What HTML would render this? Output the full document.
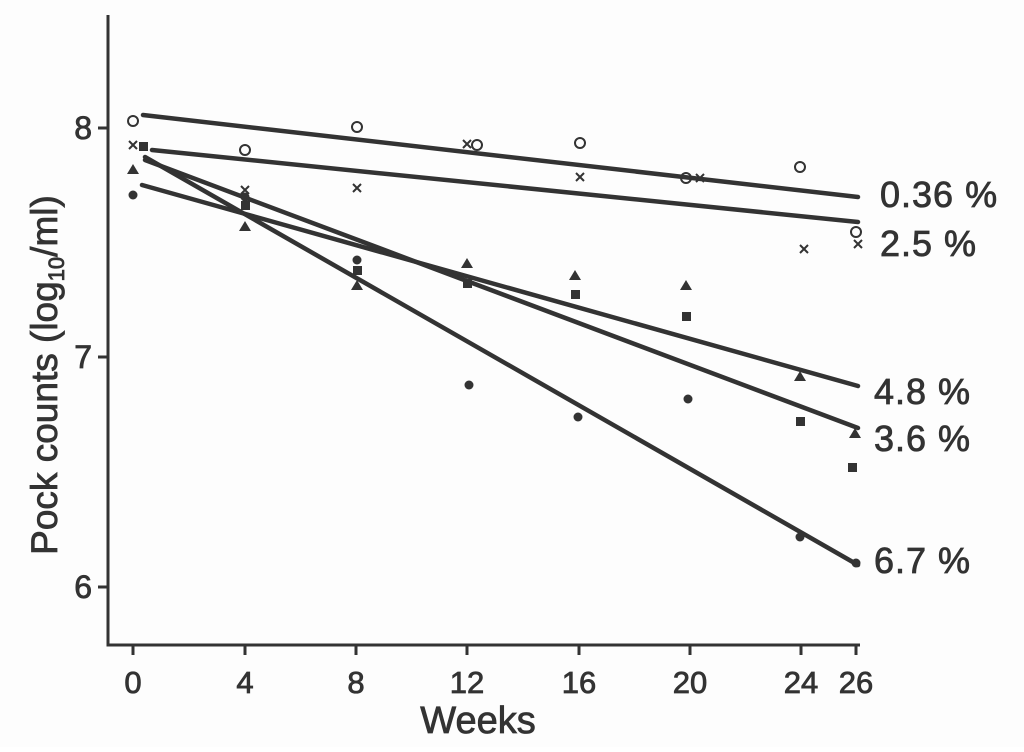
<!DOCTYPE html>
<html><head><style>body{margin:0;background:#fff}</style></head><body>
<svg width="1024" height="747" viewBox="0 0 1024 747" xmlns="http://www.w3.org/2000/svg" font-family="Liberation Sans, sans-serif" fill="#333">
<rect width="1024" height="747" fill="#fdfdfd"/>
<g stroke="#333" stroke-width="3" fill="none">
<path d="M108 15 V645 H860"/>
<path d="M108 128 H98 M108 357 H98 M108 587 H98"/>
<path d="M133 645v10 M245 645v10 M356 645v10 M467 645v10 M579 645v10 M690 645v10 M801 645v10 M856 645v10"/>
</g>
<g stroke="#333" stroke-width="4.5" fill="none" stroke-linecap="round">
<line x1="143" y1="115" x2="858" y2="197"/>
<line x1="152" y1="150" x2="858" y2="222"/>
<line x1="142" y1="185" x2="858" y2="386"/>
<line x1="145" y1="160" x2="858" y2="428"/>
<line x1="145" y1="157" x2="858" y2="565"/>
</g>
<g stroke="#333" stroke-width="2" fill="none">
<circle cx="133" cy="121" r="5"/><circle cx="245" cy="150" r="5"/><circle cx="357" cy="127" r="5"/><circle cx="477" cy="145" r="5"/><circle cx="580" cy="143" r="5"/><circle cx="686" cy="178" r="5"/><circle cx="800" cy="167" r="5"/><circle cx="856" cy="232" r="5"/>
<path d="M129 141l8 8m0-8l-8 8 M241 186l8 8m0-8l-8 8 M353 184l8 8m0-8l-8 8 M463 140l8 8m0-8l-8 8 M576 173l8 8m0-8l-8 8 M696 174l8 8m0-8l-8 8 M800 245l8 8m0-8l-8 8 M854 240l8 8m0-8l-8 8"/>
</g>
<g fill="#333">
<rect x="139" y="142" width="9" height="9"/><rect x="241" y="201" width="9" height="9"/><rect x="353" y="266" width="9" height="9"/><rect x="463" y="279" width="9" height="9"/><rect x="571" y="290" width="9" height="9"/><rect x="682" y="312" width="9" height="9"/><rect x="796" y="417" width="9" height="9"/><rect x="848" y="463" width="9" height="9"/>
<path d="M127 174l6-10 6 10z M239 231l6-10 6 10z M351 290l6-10 6 10z M461 268l6-10 6 10z M569 280l6-10 6 10z M680 290l6-10 6 10z M794 381l6-10 6 10z M849 438l6-10 6 10z"/>
<circle cx="133" cy="195" r="4.5"/><circle cx="245" cy="197" r="4.5"/><circle cx="357" cy="260" r="4.5"/><circle cx="469" cy="385" r="4.5"/><circle cx="578" cy="417" r="4.5"/><circle cx="688" cy="399" r="4.5"/><circle cx="800" cy="537" r="4.5"/><circle cx="856" cy="563" r="4.5"/>
</g>
<g stroke="#333" stroke-width="0.8">
<g font-size="32" text-anchor="end">
<text x="92" y="139">8</text><text x="92" y="368">7</text><text x="92" y="598">6</text>
</g>
<g font-size="31" text-anchor="middle">
<text x="133" y="693">0</text><text x="245" y="693">4</text><text x="356" y="693">8</text><text x="467" y="693">12</text><text x="579" y="693">16</text><text x="690" y="693">20</text><text x="801" y="693">24</text><text x="856" y="693">26</text>
<text x="478" y="733" font-size="38">Weeks</text>
</g>
<g font-size="36" letter-spacing="1">
<text x="880" y="207">0.36 %</text><text x="880" y="256">2.5 %</text><text x="874" y="404">4.8 %</text><text x="874" y="451">3.6 %</text><text x="874" y="573">6.7 %</text>
</g>
<text transform="translate(57,375) rotate(-90)" text-anchor="middle" font-size="37">Pock counts (log<tspan font-size="22" dy="7">10</tspan><tspan dy="-7">/ml)</tspan></text>
</g>
</svg>
</body></html>
